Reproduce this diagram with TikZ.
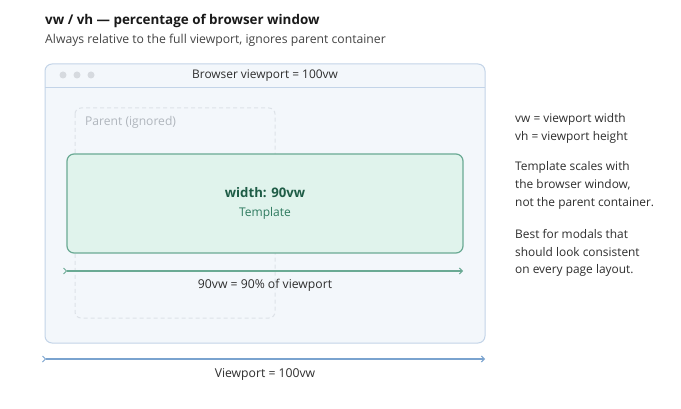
\documentclass[tikz,border=0pt]{standalone}
\usepackage{fontspec}
\setmainfont{Open Sans}
\usetikzlibrary{arrows.meta}
\definecolor{winfill}{HTML}{F3F7FB}
\definecolor{winedge}{HTML}{C3D4E8}
\definecolor{dotc}{HTML}{D6DADF}
\definecolor{parentc}{HTML}{DDE2E8}
\definecolor{parenttxt}{HTML}{B0B6BD}
\definecolor{tplfill}{HTML}{E0F3EC}
\definecolor{tpledge}{HTML}{6AAA94}
\definecolor{tpldark}{HTML}{1E5C46}
\definecolor{tplmid}{HTML}{2E7A5F}
\definecolor{bluearr}{HTML}{7AA3CF}
\definecolor{txt}{HTML}{2E2E2E}
\definecolor{subtxt}{HTML}{444444}
\tikzset{
  lbl/.style={inner sep=0pt, text=txt, font=\fontsize{12.2}{14}\selectfont},
  note/.style={inner sep=0pt, anchor=west, text=txt, font=\fontsize{11.9}{14}\selectfont},
  mtip/.tip={Straight Barb[length=3pt,width=6pt,line width=1pt]},
  mtipr/.tip={Straight Barb[reversed,length=3pt,width=6pt,line width=1pt]},
}
\begin{document}
\begin{tikzpicture}[x=1pt,y=-1pt]
\useasboundingbox (0,0) rectangle (681,409);
\fill[white] (0,0) rectangle (681,409);
% title
\node[inner sep=0pt, anchor=base west, text=black!90, font=\fontsize{13.4}{16}\selectfont\bfseries] (title) at (45,25) {vw / vh — percentage of browser window};
\node[inner sep=0pt, anchor=base west, text=subtxt, font=\fontsize{12.2}{14}\selectfont] (sub) at (45,44) {Always relative to the full viewport, ignores parent container};
% browser window
\draw[winedge, fill=winfill, line width=1pt, rounded corners=7pt] (45,64) rectangle (485,343);
\draw[winedge, line width=0.8pt] (45,87) -- (485,87);
\node[draw=none, fill=dotc, circle, minimum size=7pt, inner sep=0pt] (d1) at (63,75) {};
\node[draw=none, fill=dotc, circle, minimum size=7pt, inner sep=0pt] (d2) at (77,75) {};
\node[draw=none, fill=dotc, circle, minimum size=7pt, inner sep=0pt] (d3) at (91,75) {};
\node[inner sep=0pt, text=txt, font=\fontsize{11.9}{14}\selectfont] (btitle) at (265,75.5) {Browser viewport = 100vw};
% parent
\draw[parentc, line width=1pt, dashed, dash pattern=on 4pt off 3pt, rounded corners=6pt] (75,108) rectangle (275,318);
\node[inner sep=0pt, anchor=west, text=parenttxt, font=\fontsize{12.1}{14}\selectfont] (ptxt) at (85,122) {Parent (ignored)};
% template
\node[draw=tpledge, fill=tplfill, line width=1.2pt, rounded corners=7pt, minimum width=396pt, minimum height=99pt, inner sep=0pt] (tpl) at (265,203.5) {};
\node[inner sep=0pt, text=tpldark, font=\fontsize{13.2}{15}\selectfont\bfseries] (tw) at (265,193) {width: 90vw};
\node[inner sep=0pt, text=tplmid, font=\fontsize{12}{14}\selectfont] (tt) at (265,213) {Template};
% green dimension
\coordinate (ga) at (63,271);
\coordinate (gb) at (463,271);
\draw[tpledge, line width=1.2pt, {mtipr}-{mtip}] (ga) -- (gb);
\node[lbl] (glbl) at (265,285.5) {90vw = 90\% of viewport};
% blue dimension
\coordinate (ba) at (42,359);
\coordinate (bb) at (485,359);
\draw[bluearr, line width=1.2pt, {mtipr}-{mtip}] (ba) -- (bb);
\node[lbl] (blbl) at (265,374) {Viewport = 100vw};
% notes
\node[note] (n1) at (515,119) {vw = viewport width};
\node[note] (n2) at (515,137) {vh = viewport height};
\node[note] (n3) at (515,167) {Template scales with};
\node[note] (n4) at (515,185) {the browser window,};
\node[note] (n5) at (515,203) {not the parent container.};
\node[note] (n6) at (515,234) {Best for modals that};
\node[note] (n7) at (515,252) {should look consistent};
\node[note] (n8) at (515,270) {on every page layout.};
\end{tikzpicture}
\end{document}
